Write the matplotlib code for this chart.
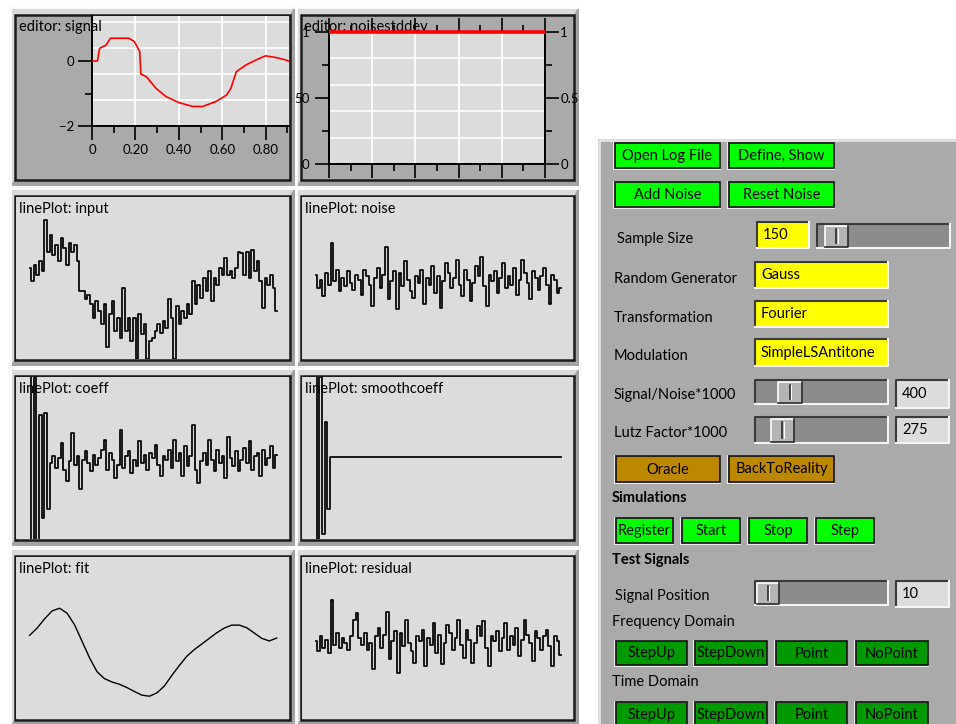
import matplotlib
matplotlib.use("Agg")
import matplotlib.pyplot as plt
from matplotlib.patches import Rectangle, Polygon

plt.rcParams['font.family'] = ['Lato', 'DejaVu Sans']

W, H = 956, 724

# ---- data ----
# editor: signal  (x position, value)
signal_x = [0, 0.025, 0.035, 0.065, 0.085, 0.17, 0.195, 0.22, 0.225, 0.25, 0.295, 0.34,
            0.40, 0.465, 0.51, 0.57, 0.62, 0.64, 0.665, 0.71, 0.755, 0.80, 0.845, 0.895, 0.925]
signal_y = [0, 0, 0.39, 0.49, 0.70, 0.70, 0.60, 0.29, -0.40, -0.48, -0.84, -1.09,
            -1.28, -1.40, -1.40, -1.25, -1.05, -0.84, -0.33, -0.12, 0.03, 0.16, 0.11, 0.03, -0.07]
signal_xticks = [0, 0.2, 0.4, 0.6, 0.8]
signal_xlabels = ['0', '0.20', '0.40', '0.60', '0.80']
signal_yticks = [-2, 0]
signal_ylabels = ['\u22122', '0']

# editor: noisestddev
noisesd_x = [0, 1]
noisesd_y = [1, 1]
noisesd_lticks = [0, 50, 100]
noisesd_llabels = ['0', '50', '1']
noisesd_rticks = [0, 0.5, 1]
noisesd_rlabels = ['0', '0.5', '1']

# linePlot panels (heights in box units, 0 = bottom, 490 = top)
input_h = [275, 235, 285, 255, 295, 265, 420, 325, 375, 315, 345, 295, 365,
           335, 285, 350, 325, 345, 295, 205, 205, 180, 195, 165, 125, 175, 145,
           105, 165, 35, 135, 175, 85, 125, 65, 215, 85, 125, 55,
           125, 0, 135, 75, 105, 0, 55, 65, 85, 105, 80, 115, 95, 180, 125, 0,
           160, 105, 145, 125, 165, 135, 235, 165, 225, 185, 245, 205,
           265, 175, 245, 225, 275, 255, 305, 255, 265, 245, 275, 325,
           320, 255, 325, 245, 330, 265, 295, 235, 155, 245, 225, 255, 215, 145]
noise_h = [255, 215, 240, 190, 260, 225, 350, 235, 270, 205, 245, 220, 265, 230, 210,
           255, 240, 195, 270, 250, 225, 160, 245, 275, 215, 255, 340, 180, 235, 265,
           150, 260, 220, 295, 240, 205, 185, 250, 230, 270, 165, 245, 225, 280, 200,
           250, 155, 235, 290, 260, 215, 245, 300, 225, 190, 270, 240, 175, 230, 280,
           250, 310, 220, 160, 255, 235, 265, 200, 245, 290, 215, 250, 225, 275, 195,
           240, 300, 260, 230, 180, 265, 245, 210, 250, 275, 225, 165, 255, 240, 200, 215]
coeff_h = [800, -300, 800, -300, 375, 65, 380, 90,
           230, 250, 215, 245, 290, 210, 175, 235, 320, 225, 250, 150, 240, 265, 230,
           205, 255, 225, 245, 270, 300, 210, 260, 240, 185, 225, 330, 215, 250, 265,
           200, 240, 220, 295, 230, 255, 210, 260, 245, 285, 225, 190, 250, 240, 270,
           215, 300, 235, 260, 190, 280, 220, 250, 345, 210, 170, 235, 260, 225, 300,
           240, 205, 270, 230, 250, 185, 310, 245, 220, 265, 205, 240, 275, 230, 295,
           210, 250, 260, 190, 270, 225, 245, 280, 215, 255]
smooth_head = [800, -300, 490, 15, 355, 90]
smooth_level = 247
smooth_count = 89
fit_h = [253, 275, 303, 327, 335, 320, 285, 235, 185, 143, 122, 112, 105, 95, 83, 72,
         69, 79, 100, 132, 162, 190, 210, 227, 244, 261, 275, 284, 284, 276, 260, 244,
         236, 245]
residual_h = [235, 205, 250, 215, 240, 200, 360, 225, 260, 215, 245, 230, 210, 250, 300,
              320, 245, 225, 260, 210, 230, 150, 250, 275, 215, 255, 325, 180, 235, 265,
              140, 260, 220, 300, 230, 205, 170, 250, 235, 270, 160, 245, 225, 290, 200,
              255, 165, 230, 285, 260, 210, 245, 300, 225, 185, 270, 240, 170, 230, 280,
              250, 295, 215, 160, 250, 235, 265, 205, 245, 290, 210, 250, 225, 275, 190,
              240, 300, 255, 230, 175, 265, 245, 210, 250, 270, 220, 160, 250, 235, 195]

# control panel widgets
GREEN, DKGREEN, GOLD, YELLOW = '#00ff00', '#009a00', '#bb8800', '#ffff00'
buttons = [
    ("Open Log File", (615, 143, 720, 168), GREEN),
    ("Define, Show", (729, 143, 834, 168), GREEN),
    ("Add Noise", (615, 182, 720, 207), GREEN),
    ("Reset Noise", (729, 182, 834, 207), GREEN),
    ("Oracle", (616, 456, 720, 482), GOLD),
    ("BackToReality", (729, 456, 834, 482), GOLD),
    ("Register", (616, 518, 673, 543), GREEN),
    ("Start", (682, 518, 740, 543), GREEN),
    ("Stop", (749, 518, 807, 543), GREEN),
    ("Step", (816, 518, 874, 543), GREEN),
    ("StepUp", (616, 641, 687, 665), DKGREEN),
    ("StepDown", (695, 641, 767, 665), DKGREEN),
    ("Point", (776, 641, 847, 665), DKGREEN),
    ("NoPoint", (856, 641, 928, 665), DKGREEN),
    ("StepUp", (616, 702, 687, 727), DKGREEN),
    ("StepDown", (695, 702, 767, 727), DKGREEN),
    ("Point", (776, 702, 847, 727), DKGREEN),
    ("NoPoint", (856, 702, 928, 727), DKGREEN),
]
labels = [
    ("Sample Size", 617, 239, 'normal'),
    ("Random Generator", 614, 279, 'normal'),
    ("Transformation", 614, 318, 'normal'),
    ("Modulation", 614, 356, 'normal'),
    ("Signal/Noise*1000", 614, 395, 'normal'),
    ("Lutz Factor*1000", 614, 433, 'normal'),
    ("Simulations", 612, 498, 'bold'),
    ("Test Signals", 612, 560, 'bold'),
    ("Signal Position", 615, 596, 'normal'),
    ("Frequency Domain", 612, 622, 'normal'),
    ("Time Domain", 612, 682, 'normal'),
]
fields = [
    ("150", (757, 222, 809, 248), YELLOW),
    ("Gauss", (755, 262, 888, 288), YELLOW),
    ("Fourier", (755, 301, 888, 327), YELLOW),
    ("SimpleLSAntitone", (755, 339, 888, 366), YELLOW),
    ("400", (896, 380, 949, 408), '#dcdcdc'),
    ("275", (896, 417, 949, 443), '#dcdcdc'),
    ("10", (896, 581, 949, 607), '#dcdcdc'),
]
sliders = [  # trough box, thumb left/right
    ((817, 224, 950, 248), (825, 848)),
    ((755, 380, 888, 404), (778, 802)),
    ((755, 417, 888, 443), (771, 794)),
    ((755, 581, 888, 605), (757, 779)),
]

FS = 10.5

fig = plt.figure(figsize=(W / 100, H / 100), dpi=100)
fig.patch.set_facecolor('white')
bg = fig.add_axes([0, 0, 1, 1])
bg.set_xlim(0, W)
bg.set_ylim(H, 0)
bg.axis('off')


def px_axes(x0, y0, x1, y1):
    return fig.add_axes([x0 / W, 1 - y1 / H, (x1 - x0) / W, (y1 - y0) / H])


def cell(box, fill):
    # bevelled frame around a plot box
    x0, y0, x1, y1 = box
    ox0, oy0, ox1, oy1 = x0 - 6, y0 - 9, x1 + 5, y1 + 6
    bg.add_patch(Rectangle((ox0, oy0), ox1 - ox0, oy1 - oy0, fc='#dadada', ec='none'))
    bg.add_patch(Polygon([(ox1, oy0), (ox1, oy1), (ox0, oy1), (x0, y1), (x1, y1), (x1, y0)],
                         closed=True, fc='#a2a2a2', ec='none'))
    bg.plot([ox0 + 1, ox0 + 1, ox1], [oy1, oy0 + 1, oy0 + 1], color='white', lw=2,
            solid_capstyle='butt')
    bg.add_patch(Rectangle((x0, y0), x1 - x0, y1 - y0, fc=fill, ec='#1c1c1c', lw=1.8))


def bare(ax):
    ax.set_xticks([])
    ax.set_yticks([])
    for s in ax.spines.values():
        s.set_visible(False)


def line_panel(box, title, values, steps=True):
    x0, y0, x1, y1 = box
    cell(box, '#dcdcdc')
    ax = px_axes(x0 + 1, y0 + 1, x1 - 1, y1 - 1)
    ax.set_facecolor('#dcdcdc')
    n = len(values)
    a, b = 0.05, 0.955
    span = (n - 1) / (b - a)
    ax.set_xlim(-a * span, (1 - a) * span)
    ax.set_ylim(0, 490)
    ax.plot(range(n), values, color='black', lw=1.25 if steps else 1.0,
            drawstyle='steps-mid' if steps else 'default', zorder=3)
    ax.text(3 / (x1 - x0), 1 - 12 / (y1 - y0), title, transform=ax.transAxes,
            fontsize=FS, ha='left', va='center', zorder=1)
    bare(ax)


COL1, COL2 = (15, 290), (301, 574)
ROWS = [(15, 180), (196, 360), (376, 540), (556, 720)]

# ---- editor: signal ----
cell((COL1[0], ROWS[0][0], COL1[1], ROWS[0][1]), '#aaaaaa')
ax = px_axes(92, 16, 289, 126)
ax.set_facecolor('#dcdcdc')
ax.set_xlim(0, 197 / 217)
ax.set_ylim(-2, -2 + 110 / 32.5)
for v in [0.2, 0.4, 0.6, 0.8]:
    ax.axvline(v, color='white', lw=1.2, zorder=1)
for v in [1.2, 0.4, -0.4, -1.2]:
    ax.axhline(v, color='white', lw=1.2, zorder=1)
ax.plot(signal_x, signal_y, color='red', lw=1.2, zorder=3)
ax.spines['top'].set_visible(False)
ax.spines['right'].set_visible(False)
ax.spines['left'].set_linewidth(1.4)
ax.spines['bottom'].set_linewidth(1.4)
ax.set_xticks(signal_xticks)
ax.set_xticklabels(signal_xlabels)
ax.set_xticks([0.1, 0.3, 0.5, 0.7, 0.9], minor=True)
ax.set_yticks(signal_yticks)
ax.set_yticklabels(signal_ylabels)
ax.set_yticks([-1], minor=True)
ax.tick_params(which='major', length=10, width=1.2, labelsize=9.5, pad=3, direction='out')
ax.tick_params(which='minor', length=5, width=1.2, direction='out')
ax.text(-73 / 197, 1 - 11 / 110, "editor: signal", transform=ax.transAxes,
        fontsize=FS, ha='left', va='center', zorder=4, clip_on=False)

# ---- editor: noisestddev ----
cell((COL2[0], ROWS[0][0], COL2[1], ROWS[0][1]), '#aaaaaa')
ax2 = px_axes(329, 32, 545, 164)
ax2.set_facecolor('#dcdcdc')
ax2.set_xlim(0, 1)
ax2.set_ylim(0, 100)
for v in [0.2, 0.4, 0.6, 0.8]:
    ax2.axvline(v, color='white', lw=1.2, zorder=1)
for v in [20, 40, 60, 80]:
    ax2.axhline(v, color='white', lw=1.2, zorder=1)
for s in ax2.spines.values():
    s.set_linewidth(1.4)
ax2.set_xticks([0, 0.2, 0.4, 0.6, 0.8, 1.0])
ax2.set_xticks([0.1, 0.3, 0.5, 0.7, 0.9], minor=True)
ax2.set_yticks(noisesd_lticks)
ax2.set_yticklabels(noisesd_llabels)
ax2.set_yticks([25, 75], minor=True)
ax2.tick_params(axis='x', which='both', top=True, bottom=True, labelbottom=False)
ax2.tick_params(which='major', length=10, width=1.2, labelsize=9.5, pad=4, direction='out')
ax2.tick_params(which='minor', length=5, width=1.2, direction='out')
ax2r = ax2.twinx()
ax2r.set_ylim(0, 1)
ax2r.set_yticks(noisesd_rticks)
ax2r.set_yticklabels(noisesd_rlabels)
ax2r.set_yticks([0.25, 0.75], minor=True)
ax2r.tick_params(which='major', length=10, width=1.2, labelsize=9.5, pad=1, direction='out')
ax2r.tick_params(which='minor', length=5, width=1.2, direction='out')
for s in ax2r.spines.values():
    s.set_linewidth(1.4)
ax2r.plot(noisesd_x, noisesd_y, color='red', lw=2.6, clip_on=False,
          solid_capstyle='butt', zorder=4)
ax2.text(-25 / 216, 1 + 5 / 132, "editor: noisestddev", transform=ax2.transAxes,
         fontsize=FS, ha='left', va='center', clip_on=False)

# ---- linePlot panels ----
smooth_h = smooth_head + [smooth_level] * smooth_count
line_panel((COL1[0], ROWS[1][0], COL1[1], ROWS[1][1]), "linePlot: input", input_h)
line_panel((COL2[0], ROWS[1][0], COL2[1], ROWS[1][1]), "linePlot: noise", noise_h)
line_panel((COL1[0], ROWS[2][0], COL1[1], ROWS[2][1]), "linePlot: coeff", coeff_h)
line_panel((COL2[0], ROWS[2][0], COL2[1], ROWS[2][1]), "linePlot: smoothcoeff", smooth_h)
line_panel((COL1[0], ROWS[3][0], COL1[1], ROWS[3][1]), "linePlot: fit", fit_h, steps=False)
line_panel((COL2[0], ROWS[3][0], COL2[1], ROWS[3][1]), "linePlot: residual", residual_h)

# ---- control panel ----
bg.add_patch(Rectangle((598, 139), W - 598, H - 139, fc='#aaaaaa', ec='none'))
bg.plot([599, 599, W], [H, 140, 140], color='#e2e2e2', lw=2)


def sunken(x0, y0, x1, y1, fc):
    bg.add_patch(Rectangle((x0, y0), x1 - x0, y1 - y0, fc=fc, ec='none'))
    bg.plot([x0, x0, x1], [y1, y0, y0], color='#3a3a3a', lw=1.5)
    bg.plot([x0, x1, x1], [y1, y1, y0], color='#f4f4f4', lw=1.5)


for text, (x0, y0, x1, y1), fc in buttons:
    bg.add_patch(Rectangle((x0 - 1.5, y0 - 1.5), x1 - x0 + 3, y1 - y0 + 3, fc='#ececec', ec='none'))
    bg.add_patch(Rectangle((x0, y0), x1 - x0, y1 - y0, fc=fc, ec='#1a1a1a', lw=1.3))
    bg.text((x0 + x1) / 2, (y0 + y1) / 2 + 0.5, text, ha='center', va='center', fontsize=FS)

for text, x, y, weight in labels:
    bg.text(x, y, text, ha='left', va='center', fontsize=FS, fontweight=weight)

for text, (x0, y0, x1, y1), fc in fields:
    sunken(x0, y0, x1, y1, fc)
    bg.text(x0 + 6, (y0 + y1) / 2, text, ha='left', va='center', fontsize=FS)

for (x0, y0, x1, y1), (t0, t1) in sliders:
    sunken(x0, y0, x1, y1, '#8c8c8c')
    bg.add_patch(Rectangle((t0, y0 + 1.5), t1 - t0, y1 - y0 - 3, fc='#b4b4b4', ec='none'))
    bg.plot([t0, t0, t1], [y1 - 1.5, y0 + 1.5, y0 + 1.5], color='white', lw=1.2)
    bg.plot([t0, t1, t1], [y1 - 1.5, y1 - 1.5, y0 + 1.5], color='#2a2a2a', lw=1.2)
    mid = (t0 + t1) / 2
    bg.plot([mid, mid], [y0 + 5, y1 - 5], color='#2a2a2a', lw=1.2)
    bg.plot([mid + 1.3, mid + 1.3], [y0 + 5, y1 - 5], color='white', lw=0.8)

fig.savefig("out.png", dpi=100, facecolor='white')
